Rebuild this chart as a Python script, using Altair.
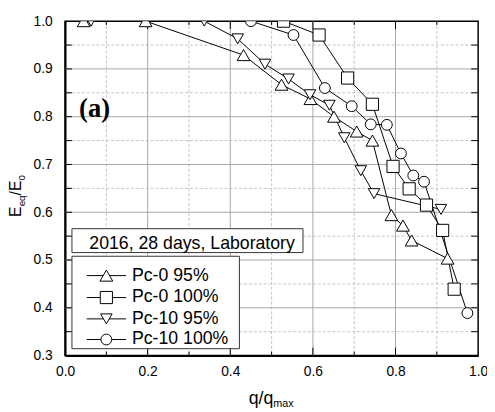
import altair as alt
import pandas as pd

# ---------------- data ----------------
series = ["Pc-0 95%", "Pc-0 100%", "Pc-10 95%", "Pc-10 100%"]

pc0_95_x = [0.045, 0.195, 0.432, 0.524, 0.594, 0.651, 0.706, 0.744, 0.790, 0.818, 0.839, 0.926]
pc0_95_y = [1.000, 1.000, 0.929, 0.867, 0.837, 0.800, 0.769, 0.750, 0.594, 0.572, 0.541, 0.503]

pc0_100_x = [0.529, 0.615, 0.684, 0.744, 0.794, 0.833, 0.875, 0.914, 0.942]
pc0_100_y = [1.000, 0.971, 0.881, 0.826, 0.696, 0.649, 0.615, 0.562, 0.439]

pc10_95_x = [0.063, 0.337, 0.418, 0.484, 0.541, 0.593, 0.640, 0.676, 0.716, 0.748, 0.910]
pc10_95_y = [1.000, 1.000, 0.963, 0.910, 0.879, 0.846, 0.824, 0.756, 0.687, 0.639, 0.606]

pc10_100_x = [0.450, 0.553, 0.629, 0.694, 0.740, 0.779, 0.813, 0.843, 0.869, 0.974]
pc10_100_y = [1.000, 0.971, 0.860, 0.822, 0.784, 0.783, 0.723, 0.677, 0.664, 0.389]

x_labels = [0.0, 0.2, 0.4, 0.6, 0.8, 1.0]
y_labels = [0.3, 0.4, 0.5, 0.6, 0.7, 0.8, 0.9, 1.0]
x_major = [0.2, 0.4, 0.6, 0.8]
x_minor = [0.1, 0.3, 0.5, 0.7, 0.9]
y_major = [0.4, 0.5, 0.6, 0.7, 0.8, 0.9]
y_minor = [0.35, 0.45, 0.55, 0.65, 0.75, 0.85, 0.95]

# annotation boxes (in data coordinates)
box_title = "2016, 28 days, Laboratory"
box_x = [0.0167, 0.576]
box_y = [0.5156, 0.5656]
box_text_pos = [0.0588, 0.524]
legend_box_x = [0.0167, 0.4221]
legend_box_y = [0.3144, 0.5079]
legend_rows_y = [0.4674, 0.4215, 0.3768, 0.3336]
legend_line_x = [0.0524, 0.1476]
legend_marker_x = 0.100
legend_label_x = 0.1619
panel_label = "(a)"
panel_pos = [0.0714, 0.815]

# ---------------- build tables ----------------
rows = []
for name, xs, ys in [(series[0], pc0_95_x, pc0_95_y),
                     (series[1], pc0_100_x, pc0_100_y),
                     (series[2], pc10_95_x, pc10_95_y),
                     (series[3], pc10_100_x, pc10_100_y)]:
    for i, (a, b) in enumerate(zip(xs, ys)):
        rows.append({"series": name, "q": a, "E": b, "i": i})
df = pd.DataFrame(rows)

leg_df = pd.DataFrame({
    "series": series,
    "y": legend_rows_y,
    "x1": [legend_line_x[0]] * 4,
    "x2": [legend_line_x[1]] * 4,
    "xm": [legend_marker_x] * 4,
    "xl": [legend_label_x] * 4,
})

W, H = 420, 340
FONT = "Liberation Sans"
xscale = alt.Scale(domain=[0, 1], nice=False, zero=False)
yscale = alt.Scale(domain=[0.3, 1.0], nice=False, zero=False)
xaxis = alt.Axis(values=x_labels, format=".1f", title=None, grid=False, ticks=False,
                 domainColor="black", domainWidth=2, labelFont=FONT, labelFontSize=14,
                 labelColor="black", labelPadding=9, labelFlush=False)
yaxis = alt.Axis(values=y_labels, format=".1f", title=None, grid=False, ticks=False,
                 domainColor="black", domainWidth=2, labelFont=FONT, labelFontSize=14,
                 labelColor="black", labelPadding=13, labelFlush=False)


def X(f):
    return alt.X(f, type="quantitative", scale=xscale, axis=xaxis)


def Y(f):
    return alt.Y(f, type="quantitative", scale=yscale, axis=yaxis)


def vals(v):
    return pd.DataFrame({"v": v})


# grid
g_xmaj = alt.Chart(vals(x_major)).mark_rule(color="#a6a6a6", strokeWidth=1).encode(x=X("v"))
g_xmin = alt.Chart(vals(x_minor)).mark_rule(color="#c4c4c4", strokeWidth=1, strokeDash=[3, 2]).encode(x=X("v"))
g_ymaj = alt.Chart(vals(y_major)).mark_rule(color="#a6a6a6", strokeWidth=1).encode(y=Y("v"))
g_ymin = alt.Chart(vals(y_minor)).mark_rule(color="#c4c4c4", strokeWidth=1, strokeDash=[3, 2]).encode(y=Y("v"))

# inward ticks
tk = dict(color="black", strokeWidth=1)
t_xb_maj = alt.Chart(vals(x_major)).mark_rule(**tk).encode(x=X("v"), y=alt.value(H), y2=alt.value(H - 8))
t_xb_min = alt.Chart(vals(x_minor)).mark_rule(**tk).encode(x=X("v"), y=alt.value(H), y2=alt.value(H - 4))
t_xt_maj = alt.Chart(vals(x_major)).mark_rule(**tk).encode(x=X("v"), y=alt.value(0), y2=alt.value(8))
t_xt_min = alt.Chart(vals(x_minor)).mark_rule(**tk).encode(x=X("v"), y=alt.value(0), y2=alt.value(4))
t_yl = alt.Chart(vals(y_major + y_minor)).mark_rule(**tk).encode(y=Y("v"), x=alt.value(0), x2=alt.value(7))
t_yr = alt.Chart(vals(y_major + y_minor)).mark_rule(**tk).encode(y=Y("v"), x=alt.value(W), x2=alt.value(W - 7))

# title box
box_df = pd.DataFrame({"x1": [box_x[0]], "x2": [box_x[1]], "y1": [box_y[0]], "y2": [box_y[1]],
                       "tx": [box_text_pos[0]], "ty": [box_text_pos[1]], "t": [box_title]})
box = alt.Chart(box_df).mark_rect(fill="white", stroke="#333333", strokeWidth=1).encode(
    x=X("x1"), x2="x2", y=Y("y1"), y2="y2")
box_txt = alt.Chart(box_df).mark_text(align="left", baseline="alphabetic", font=FONT, fontSize=18,
                                      color="black").encode(x=X("tx"), y=Y("ty"), text="t:N")

pan_df = pd.DataFrame({"x": [panel_pos[0]], "y": [panel_pos[1]], "t": [panel_label]})
pan = alt.Chart(pan_df).mark_text(align="center", baseline="middle", font="Liberation Serif",
                                  fontWeight="bold", fontSize=27, color="black").encode(
    x=X("x"), y=Y("y"), text="t:N")

# data
shape_scale = alt.Scale(domain=series, range=["triangle-up", "square", "triangle-down", "circle"])
size_scale = alt.Scale(domain=series, range=[169, 121, 169, 121])

lines = alt.Chart(df).mark_line(color="black", strokeWidth=1, clip=True).encode(
    x=X("q"), y=Y("E"), detail="series:N", order="i:Q")

points = alt.Chart(df).mark_point(filled=True, fill="white", stroke="black", strokeWidth=1,
                                  opacity=1, clip=True).encode(
    x=X("q"), y=Y("E"),
    shape=alt.Shape("series:N", scale=shape_scale, legend=None),
    size=alt.Size("series:N", scale=size_scale, legend=None))

# legend (drawn through the same scales)
lb_df = pd.DataFrame({"x1": [legend_box_x[0]], "x2": [legend_box_x[1]],
                      "y1": [legend_box_y[0]], "y2": [legend_box_y[1]]})
leg_box = alt.Chart(lb_df).mark_rect(fill="white", stroke="#333333", strokeWidth=1).encode(
    x=X("x1"), x2="x2", y=Y("y1"), y2="y2")
leg_lines = alt.Chart(leg_df).mark_rule(color="black", strokeWidth=1).encode(
    x=X("x1"), x2="x2", y=Y("y"))
leg_pts = alt.Chart(leg_df).mark_point(filled=True, fill="white", stroke="black", strokeWidth=1,
                                       opacity=1).encode(
    x=X("xm"), y=Y("y"),
    shape=alt.Shape("series:N", scale=shape_scale, legend=None),
    size=alt.Size("series:N", scale=size_scale, legend=None))
leg_txt = alt.Chart(leg_df).mark_text(align="left", baseline="middle", font=FONT, fontSize=18,
                                      color="black").encode(x=X("xl"), y=Y("y"), text="series:N")

# axis titles with subscripts
one = pd.DataFrame({"a": [0]})


def txt(s, x, y, size, angle=0):
    return alt.Chart(one).mark_text(text=s, align="left", baseline="alphabetic", font=FONT,
                                    fontSize=size, angle=angle, color="black").encode(
        x=alt.value(x), y=alt.value(y))


ytitle = [txt("E", -45, 199, 16, 270), txt("eq", -41, 188.3, 10, 270),
          txt("/E", -45, 177.2, 16, 270), txt("0", -41, 162.1, 10, 270)]
xtitle = [txt("q/q", 186.7, 389, 18), txt("max", 211.7, 392.5, 11)]

chart = alt.layer(
    g_xmin, g_ymin, g_xmaj, g_ymaj,
    t_xb_maj, t_xb_min, t_xt_maj, t_xt_min, t_yl, t_yr,
    lines, points, box, box_txt, leg_box, leg_lines, leg_pts, leg_txt, pan,
    *ytitle, *xtitle
).properties(
    width=W, height=H,
    autosize=alt.AutoSizeParams(type="none"),
    padding={"left": 58, "top": 10, "right": 9, "bottom": 55},
    background="white",
).configure_view(stroke="black", strokeWidth=1.5)

chart.save("out.html", embed_options={"renderer": "svg", "actions": False})
